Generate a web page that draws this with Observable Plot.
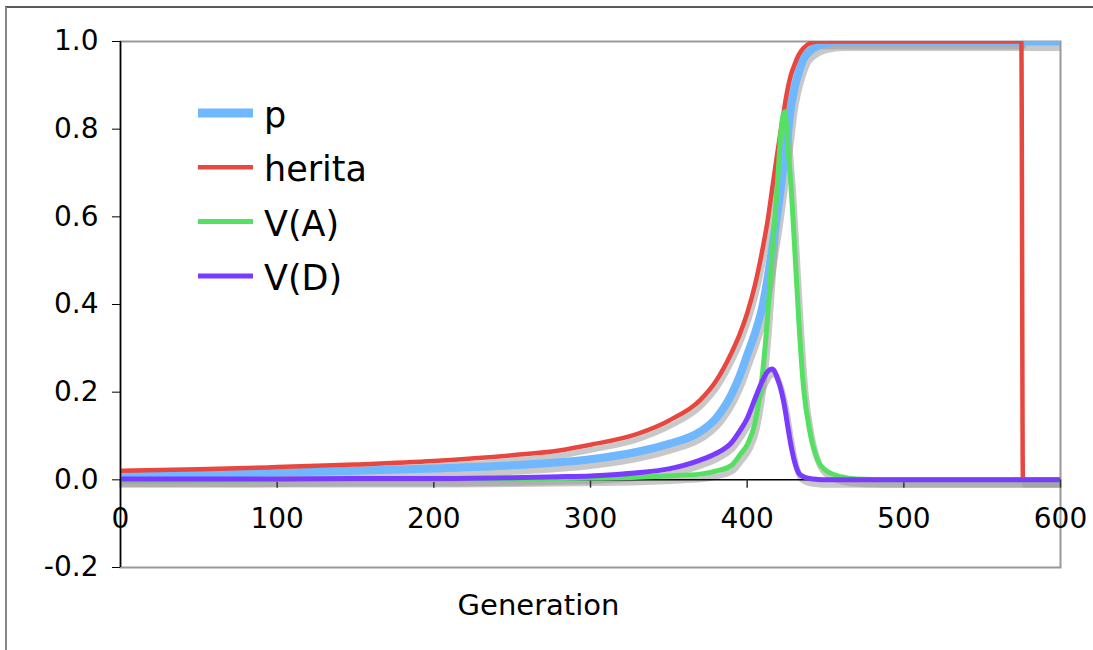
<!DOCTYPE html>
<html>
<head>
<meta charset="utf-8">
<script src="https://cdn.jsdelivr.net/npm/d3@7"></script>
<script src="https://cdn.jsdelivr.net/npm/@observablehq/plot@0.6"></script>
<style>
  html, body { margin: 0; padding: 0; background: #fff; }
  #chart svg { display: block; }
</style>
</head>
<body>
<div id="chart"></div>
<script>
// ---- data ----
const generations = [0,50,100,150,200,250,280,300,330,350,370,380,390,395,400,405,410,413,416,419,422,424,426,428,430,433,436,440,445,450,460,470,500,550,575,576,600];
const pValues =      [0.012,0.014,0.017,0.021,0.026,0.033,0.040,0.047,0.064,0.082,0.11,0.14,0.195,0.235,0.285,0.335,0.40,0.46,0.53,0.60,0.68,0.74,0.79,0.85,0.89,0.93,0.96,0.978,0.99,0.996,1,1,1,1,1,1,1];
const heritaValues = [0.021,0.024,0.029,0.035,0.043,0.056,0.067,0.08,0.105,0.135,0.182,0.225,0.29,0.33,0.38,0.445,0.53,0.59,0.665,0.74,0.81,0.855,0.895,0.925,0.945,0.97,0.985,0.996,1,1,1,1,1,1,1,0,0];
const vaValues =     [0,0,0.0005,0.001,0.001,0.002,0.003,0.004,0.006,0.009,0.013,0.02,0.033,0.055,0.08,0.13,0.25,0.37,0.52,0.66,0.81,0.84,0.76,0.67,0.55,0.36,0.21,0.11,0.045,0.022,0.007,0.002,0,0,0,0,0];
const vdValues =     [0.002,0.002,0.002,0.003,0.003,0.005,0.007,0.009,0.016,0.025,0.045,0.06,0.085,0.11,0.14,0.185,0.228,0.247,0.253,0.235,0.20,0.165,0.12,0.078,0.045,0.015,0.007,0.003,0.001,0,0,0,0,0,0,0,0];

const seriesNames = ["p", "herita", "V(A)", "V(D)"];
const seriesValues = [pValues, heritaValues, vaValues, vdValues];
const seriesColors = ["#6fb7ff", "#e8473f", "#55e062", "#7a3bff"];
const seriesWidths = [8, 4.5, 5, 5];

const xTicks = [0, 100, 200, 300, 400, 500, 600];
const yTicks = [-0.2, 0.0, 0.2, 0.4, 0.6, 0.8, 1.0];
const xTitle = "Generation";

// tidy rows per series
const rows = seriesNames.map((name, s) =>
  generations.map((g, i) => ({gen: g, value: seriesValues[s][i], series: name}))
);

const shadowMarks = rows.map((data, s) =>
  Plot.line(data, {
    x: "gen", y: "value",
    z: d => (s === 1 && d.gen > 575) ? "b" : "a",
    curve: "monotone-x",
    stroke: "#9a9a9a", strokeOpacity: 0.55,
    strokeWidth: seriesWidths[s] + 1,
    dx: 2, dy: 5, clip: true
  })
);
const lineMarks = rows.map((data, s) =>
  Plot.line(data, {
    x: "gen", y: "value",
    curve: "monotone-x",
    stroke: seriesColors[s],
    strokeWidth: seriesWidths[s],
    strokeLinejoin: "round",
    clip: true
  })
);

const chart = Plot.plot({
  width: 1093,
  height: 650,
  marginLeft: 120,
  marginRight: 33,
  marginTop: 41,
  marginBottom: 83,
  style: {fontFamily: "DejaVu Sans", background: "white", color: "black", overflow: "visible"},
  x: {domain: [0, 600], axis: null},
  y: {domain: [-0.2, 1.0], axis: null},
  marks: [
    Plot.frame({stroke: "#999", strokeWidth: 2}),
    Plot.axisY(yTicks, {
      tickSize: 8, tickPadding: 14, fontSize: 28,
      tickFormat: d => d.toFixed(1), label: null, stroke: "black"
    }),
    ...shadowMarks,
    Plot.ruleY([0], {stroke: "black", strokeWidth: 1.5}),
    Plot.ruleX(xTicks, {x: d => d, y1: 0, y2: -0.019, stroke: "#333", strokeWidth: 1.5}),
    ...lineMarks,
    Plot.ruleX([0], {stroke: "black", strokeWidth: 1.5}),
    Plot.text(xTicks, {x: d => d, y: 0, dy: 39, text: d => String(d), fontSize: 28, fill: "black"}),
    Plot.text([xTitle], {frameAnchor: "bottom", dx: -52, dy: 47, fontSize: 29, fill: "black"})
  ]
});

document.getElementById("chart").appendChild(chart);

// outer chart border (extends beyond the picture on the right and bottom)
const svg = d3.select(chart);
svg.append("line").attr("x1", 5).attr("x2", 1093).attr("y1", 7).attr("y2", 7)
  .attr("stroke", "#222").attr("stroke-width", 1.5);
svg.append("line").attr("x1", 6).attr("x2", 6).attr("y1", 7).attr("y2", 650)
  .attr("stroke", "#888").attr("stroke-width", 2);

// legend inside plot area
const legend = svg.append("g")
  .attr("font-family", "DejaVu Sans")
  .attr("font-size", 35)
  .attr("text-anchor", "start");
seriesNames.forEach((name, i) => {
  const y = 113 + i * 54.3;
  legend.append("line").attr("x1", 198).attr("x2", 253).attr("y1", y).attr("y2", y)
    .attr("stroke", seriesColors[i]).attr("stroke-width", seriesWidths[i] + (i === 0 ? 1 : 0));
  legend.append("text").attr("x", 264).attr("y", y + 14)
    .attr("text-anchor", "start").attr("fill", "black").text(name);
});
</script>
</body>
</html>
